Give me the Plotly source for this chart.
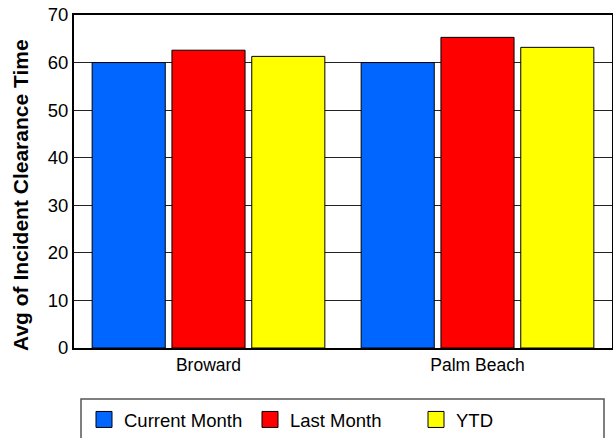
import plotly.graph_objects as go

categories = ["Broward", "Palm Beach"]
series_names = ["Current Month", "Last Month", "YTD"]
current_month = [60.0, 60.0]
last_month = [62.6, 65.3]
ytd = [61.3, 63.2]
colors = ["#0066FF", "#FF0000", "#FFFF00"]
y_ticks = [0, 10, 20, 30, 40, 50, 60, 70]
y_title = "Avg of Incident Clearance Time"

fig = go.Figure()
for name, vals, col in zip(series_names, [current_month, last_month, ytd], colors):
    fig.add_trace(go.Bar(
        x=categories, y=vals, name=name, showlegend=False,
        marker=dict(color=col, line=dict(color="black", width=1)),
    ))
# legend-only entries with larger square swatches
for name, col in zip(series_names, colors):
    fig.add_trace(go.Scatter(
        x=[None], y=[None], name=name, mode="markers",
        marker=dict(symbol="square", size=16, color=col, line=dict(color="black", width=1)),
    ))

fig.update_layout(
    width=613, height=438,
    margin=dict(l=74, r=1, t=15, b=90, autoexpand=False),
    paper_bgcolor="white", plot_bgcolor="white",
    font=dict(family="Liberation Sans, Arial, sans-serif", size=17, color="black"),
    barmode="group", bargap=0.11, bargroupgap=0.084,
    showlegend=True,
    legend=dict(
        orientation="h", x=0.0186, xanchor="left", y=-0.216, yanchor="middle",
        entrywidth=121, entrywidthmode="pixels", itemsizing="trace",
        bgcolor="rgba(0,0,0,0)", borderwidth=0,
        font=dict(size=18.5),
    ),
    shapes=[dict(
        type="rect", xref="paper", yref="paper",
        x0=(81 - 74) / 538, x1=(604 - 74) / 538,
        y0=(348 - 450) / 333, y1=(348 - 399) / 333,
        line=dict(color="#555555", width=1.5), fillcolor="rgba(0,0,0,0)",
        layer="below",
    )],
    annotations=[dict(
        text="<b>" + y_title + "</b>", textangle=-90, showarrow=False,
        xref="paper", yref="paper", x=(20 - 74) / 538, y=(348 - 195) / 333,
        xanchor="center", yanchor="middle", font=dict(size=21),
    )],
)
fig.update_xaxes(
    showline=True, linecolor="black", linewidth=2, mirror=True,
    ticks="", tickfont=dict(size=17.5), automargin=False,
)
fig.update_yaxes(
    range=[0, 70], tickvals=y_ticks, showgrid=True, gridcolor="#222222", gridwidth=1,
    showline=True, linecolor="black", linewidth=2, mirror=True,
    ticks="outside", ticklen=0, tickfont=dict(size=18.5), automargin=False,
    zeroline=False,
)

fig.write_html("out.html", config={"displayModeBar": False})
with open("out.html", encoding="utf-8") as f:
    html = f.read()
html = html.replace("<head>", "<head><style>html,body{margin:0;padding:0;overflow:hidden}</style>", 1)
with open("out.html", "w", encoding="utf-8") as f:
    f.write(html)
